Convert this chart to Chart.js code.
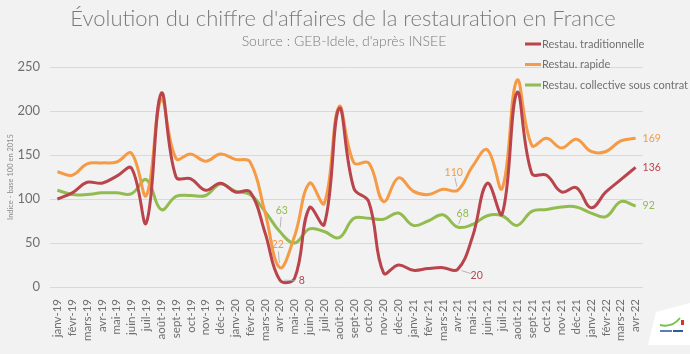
<!DOCTYPE html>
<html lang="fr">
<head>
<meta charset="UTF-8">
<title>Restauration France</title>
<script src="https://cdn.jsdelivr.net/npm/chart.js"></script>
<style>
  html, body { margin: 0; padding: 0; background: #f2f2f2; }
  #wrap { width: 690px; height: 354px; position: relative; }
</style>
</head>
<body>
<div id="wrap"><canvas id="chart"></canvas></div>
<script>
const months = ['janv-19','févr-19','mars-19','avr-19','mai-19','juin-19','juil-19','août-19','sept-19','oct-19','nov-19','déc-19',
  'janv-20','févr-20','mars-20','avr-20','mai-20','juin-20','juil-20','août-20','sept-20','oct-20','nov-20','déc-20',
  'janv-21','févr-21','mars-21','avr-21','mai-21','juin-21','juil-21','août-21','sept-21','oct-21','nov-21','déc-21',
  'janv-22','févr-22','mars-22','avr-22'];

const traditionnelle = [100,107,119,118,126,135,73,220,125,123,110,118,
  108,108,62,8,10,90,71,203,112,97,16,25,
  19,21,22,20,57,118,83,221,129,127,108,113,
  90,108,122,136];

const rapide = [131,127,140,141,142,152,104,213,146,151,143,151,
  145,142,85,22,58,118,95,205,141,141,97,124,
  109,105,111,110,137,156,112,235,161,169,158,168,
  154,154,166,169];

const collective = [110,105,105,107,107,106,122,88,103,104,104,117,
  109,105,86,63,50,66,63,56,78,78,77,84,
  70,75,82,68,71,81,81,70,86,88,91,91,
  84,80,97,92];

const yTicks = [0, 50, 100, 150, 200, 250];

const FONT = 'Lato, "Open Sans", sans-serif';
const RED = '#b9444b', ORANGE = '#f59a45', GREEN = '#92bb50';

// which points get a value label, and where the text sits relative to the point
const labelSpots = {
  0: { 15: [22, 1, true], 27: [19, 6, true], 39: [7, 0, false, 'left'] },
  1: { 15: [-2, -23, true], 27: [-4, -18, true], 39: [7, 0, false, 'left'] },
  2: { 15: [2, -21, true], 27: [5, -14, true], 39: [7, 0, false, 'left'] }
};

const decor = {
  id: 'decor',
  afterDraw(chart) {
    const c = chart.ctx;
    c.save();
    // title
    c.fillStyle = '#7a7a7a';
    c.textAlign = 'center';
    c.textBaseline = 'middle';
    c.font = '300 22px ' + FONT;
    c.fillText("Évolution du chiffre d'affaires de la restauration en France", 343, 19);
    c.font = '300 14px ' + FONT;
    c.fillText("Source : GEB-Idele, d'après INSEE", 344, 41);

    // legend
    c.textAlign = 'left';
    c.font = '11px ' + FONT;
    chart.data.datasets.forEach((ds, k) => {
      const y = 44 + k * 20.5;
      c.strokeStyle = ds.borderColor;
      c.lineWidth = 3;
      c.beginPath();
      c.moveTo(525, y);
      c.lineTo(541, y);
      c.stroke();
      c.fillStyle = '#707070';
      c.fillText(ds.label, 542, y);
    });

    // value labels
    c.font = '10.5px ' + FONT;
    chart.data.datasets.forEach((ds, k) => {
      const meta = chart.getDatasetMeta(k);
      const spots = labelSpots[k];
      Object.keys(spots).forEach(i => {
        const [dx, dy, leader, align] = spots[i];
        const p = meta.data[i];
        const tx = p.x + dx, ty = p.y + dy;
        if (leader) {
          c.strokeStyle = '#a6a6a6';
          c.lineWidth = 0.8;
          c.beginPath();
          const lx = tx - dx * 0.3, ly = ty - dy * 0.3;
          c.moveTo(lx, ly);
          c.lineTo(p.x + dx * 0.2, p.y + dy * 0.2);
          c.stroke();
        }
        c.fillStyle = ds.borderColor;
        c.textAlign = align || 'center';
        c.fillText(String(ds.data[i]), tx, ty);
      });
    });

    // small logo, bottom right
    c.fillStyle = '#ffffff';
    c.beginPath();
    c.moveTo(656, 312); c.lineTo(690, 303); c.lineTo(690, 345); c.lineTo(648, 345);
    c.closePath();
    c.fill();
    c.strokeStyle = '#7cc04a';
    c.lineWidth = 2;
    c.beginPath();
    c.moveTo(660, 325); c.quadraticCurveTo(672, 328, 680, 318);
    c.stroke();
    c.fillStyle = '#d9342b';
    c.fillRect(681, 320, 3, 5);
    c.fillStyle = '#5a7fb8';
    c.fillRect(660, 330, 12, 2);
    c.fillStyle = '#2f5c9e';
    c.fillRect(673, 330, 10, 2);
    c.restore();
  }
};

new Chart(document.getElementById('chart'), {
  type: 'line',
  data: {
    labels: months,
    datasets: [
      { label: 'Restau. traditionnelle', data: traditionnelle, borderColor: RED },
      { label: 'Restau. rapide', data: rapide, borderColor: ORANGE },
      { label: 'Restau. collective sous contrat', data: collective, borderColor: GREEN }
    ].map(d => Object.assign(d, { borderWidth: 3, pointRadius: 0, tension: 0.4, fill: false }))
  },
  options: {
    responsive: true,
    maintainAspectRatio: false,
    animation: false,
    layout: { padding: { top: 67, right: 47, left: 0, bottom: 0 } },
    plugins: { legend: { display: false }, title: { display: false }, tooltip: { enabled: false } },
    scales: {
      x: {
        offset: true,
        grid: { display: false },
        border: { display: false },
        ticks: {
          autoSkip: false, maxRotation: 90, minRotation: 90,
          color: '#6f6f6f', font: { family: FONT, size: 11.5 }, padding: 4
        },
        afterFit(s) { s.height = 67; }
      },
      y: {
        min: 0, max: 250,
        afterBuildTicks(s) { s.ticks = yTicks.map(v => ({ value: v })); },
        grid: { color: '#d9d9d9', lineWidth: 1, drawTicks: false },
        border: { display: false },
        ticks: { color: '#6f6f6f', font: { family: FONT, size: 13 }, padding: 10 },
        title: {
          display: true, text: 'Indice - base 100 en 2015',
          color: '#8a8a8a', font: { family: FONT, size: 7.5 }, padding: { top: 6, bottom: 0 }
        },
        afterFit(s) { s.width = 50; }
      }
    }
  },
  plugins: [decor]
});
</script>
</body>
</html>
